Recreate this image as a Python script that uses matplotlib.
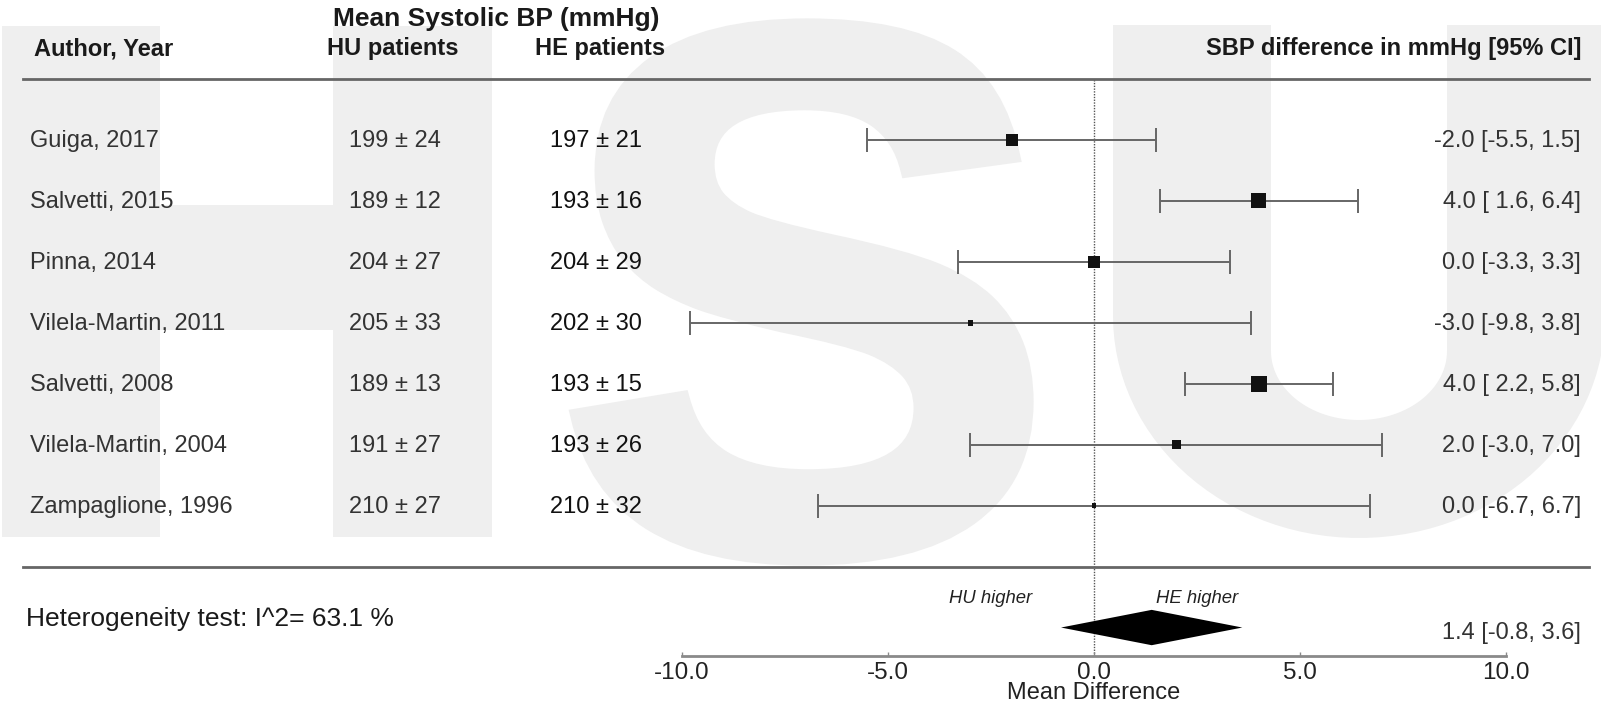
import numpy as np
import matplotlib
matplotlib.use("Agg")
import matplotlib.pyplot as plt
import matplotlib.transforms as mtransforms
from matplotlib.patches import PathPatch, Rectangle, Polygon
from matplotlib.textpath import TextPath
from matplotlib.font_manager import FontProperties

plt.rcParams['font.family'] = ['Liberation Sans', 'DejaVu Sans']

# study data
authors = ["Guiga, 2017", "Salvetti, 2015", "Pinna, 2014", "Vilela-Martin, 2011",
           "Salvetti, 2008", "Vilela-Martin, 2004", "Zampaglione, 1996"]
hu_mean = [199, 189, 204, 205, 189, 191, 210]
hu_sd = [24, 12, 27, 33, 13, 27, 27]
he_mean = [197, 193, 204, 202, 193, 193, 210]
he_sd = [21, 16, 29, 30, 15, 26, 32]
md = [-2.0, 4.0, 0.0, -3.0, 4.0, 2.0, 0.0]
ci_lo = [-5.5, 1.6, -3.3, -9.8, 2.2, -3.0, -6.7]
ci_hi = [1.5, 6.4, 3.3, 3.8, 5.8, 7.0, 6.7]
weights = [15.7, 24.5, 16.5, 3.3, 29.6, 7.7, 2.7]   # relative box size (estimated)
pooled = 1.4
pooled_lo = -0.8
pooled_hi = 3.6
i2 = 63.1
xticks = [-10, -5, 0, 5, 10]

W, H = 1601, 706
fig = plt.figure(figsize=(W / 100, H / 100), dpi=100)

# background axes in pixel coordinates (for the watermark and the table columns)
bg = fig.add_axes([0, 0, 1, 1], zorder=0)
bg.set_xlim(0, W)
bg.set_ylim(H, 0)
bg.axis('off')

wm = '#efefef'
# H
bg.add_patch(Rectangle((2, 26), 158, 511, fc=wm, ec='none'))
bg.add_patch(Rectangle((333, 26), 159, 511, fc=wm, ec='none'))
bg.add_patch(Rectangle((159, 205), 175, 125, fc=wm, ec='none'))
# S (thickened with an edge of the same colour)
tp = TextPath((0, 0), "S", size=100, prop=FontProperties(family='Liberation Sans', weight='bold'))
ext = tp.get_extents()
x0, x1, y0, y1 = 578, 1026, 26, 558
tr = mtransforms.Affine2D().translate(-ext.x0, -ext.y0).scale(
    (x1 - x0) / ext.width, -(y1 - y0) / ext.height).translate(x0, y1)
bg.add_patch(PathPatch(tr.transform_path(tp), fc=wm, ec=wm, lw=11))
# U
t = np.linspace(np.pi, 0, 60)
ol, orr, top, oyc, ob = 1113, 1605, 25, 316, 538
il, ir, iyc, ib = 1271, 1447, 351, 420
ocx, icx = (ol + orr) / 2, (il + ir) / 2
outer = [(ol, top)] + [(ocx + (orr - ol) / 2 * np.cos(a), oyc + (ob - oyc) * np.sin(a)) for a in t] + [(orr, top)]
inner = [(ir, top)] + [(icx + (ir - il) / 2 * np.cos(a), iyc + (ib - iyc) * np.sin(a)) for a in t[::-1]] + [(il, top)]
bg.add_patch(Polygon(outer + inner, closed=True, fc=wm, ec='none'))

# forest plot axes: x in mmHg, y in row units (row spacing ~61 px)
ax_left, ax_right, ax_top, ax_bot = 682, 1506, 79, 656
ax = fig.add_axes([ax_left / W, (H - ax_bot) / H, (ax_right - ax_left) / W, (ax_bot - ax_top) / H], zorder=1)
ax.patch.set_alpha(0)
ax.set_xlim(-10, 10)
ax.set_ylim(9.467, 0)
for s in ['top', 'left', 'right']:
    ax.spines[s].set_visible(False)
ax.spines['bottom'].set_color('#8a8a8a')
ax.spines['bottom'].set_linewidth(2)
ax.set_yticks([])
ax.set_xticks(xticks)
ax.set_xticklabels([f"{v:.1f}" for v in xticks])
ax.tick_params(axis='x', direction='in', length=3, width=1, color='#8a8a8a',
               labelsize=17.5, labelcolor='#222222', pad=4.5)
ax.set_xlabel("Mean Difference", fontsize=17, color='#222222', labelpad=-1.5)

rows = np.arange(1, len(authors) + 1)
ax.axvline(0, color='#555555', lw=1, ls=(0, (1, 1)), zorder=1)
ax.errorbar(md, rows, xerr=[np.array(md) - np.array(ci_lo), np.array(ci_hi) - np.array(md)],
            fmt='none', ecolor='#666666', elinewidth=1.4, capsize=8.5, capthick=1.4, zorder=2)
side_pt = 3.03 * np.sqrt(weights) * 0.72
ax.scatter(md, rows, marker='s', s=side_pt ** 2, color='#111111', linewidths=0, zorder=3)

ysum = 9.0
ax.fill([pooled_lo, pooled, pooled_hi, pooled], [ysum, ysum - 0.29, ysum, ysum + 0.29],
        color='black', lw=0, zorder=3)
ax.text(-2.5, 8.52, "HU higher", ha='center', va='center', fontsize=13.3, style='italic', color='#222222')
ax.text(2.5, 8.52, "HE higher", ha='center', va='center', fontsize=13.3, style='italic', color='#222222')

# table columns: x in pixels, y in row units
tt = mtransforms.blended_transform_factory(bg.transData, ax.transData)
line_kw = dict(color='#666666', lw=2, transform=tt, clip_on=False, zorder=1)
ax.plot([23, 1589], [0, 0], **line_kw)
ax.plot([23, 1589], [8.0, 8.0], **line_kw)

hdr = dict(transform=tt, fontsize=17, fontweight='bold', color='#1a1a1a', va='center', clip_on=False)
ax.text(496, -0.98, "Mean Systolic BP (mmHg)", ha='center', **{**hdr, 'fontsize': 19})
ax.text(34, -0.5, "Author, Year", ha='left', **hdr)
ax.text(393, -0.5, "HU patients", ha='center', **hdr)
ax.text(600, -0.5, "HE patients", ha='center', **hdr)
ax.text(1582, -0.5, "SBP difference in mmHg [95% CI]", ha='right', **hdr)

cell = dict(transform=tt, fontsize=17, color='#333333', va='center', clip_on=False)
for i, y in enumerate(rows):
    ax.text(30, y + 0.02, authors[i], ha='left', **cell)
    ax.text(395, y + 0.02, f"{hu_mean[i]} \u00b1 {hu_sd[i]}", ha='center', **cell)
    ax.text(596, y + 0.02, f"{he_mean[i]} \u00b1 {he_sd[i]}", ha='center', **{**cell, 'color': '#111111'})
    ax.text(1581, y + 0.02, f"{md[i]:.1f} [{ci_lo[i]:4.1f}, {ci_hi[i]:.1f}]", ha='right', **cell)

ax.text(26, 8.86, f"Heterogeneity test: I^2= {i2} %", ha='left', **{**cell, 'fontsize': 19, 'color': '#1a1a1a'})
ax.text(1581, 9.09, f"{pooled:.1f} [{pooled_lo:.1f}, {pooled_hi:.1f}]", ha='right', **cell)

fig.savefig("out.png", dpi=100)
